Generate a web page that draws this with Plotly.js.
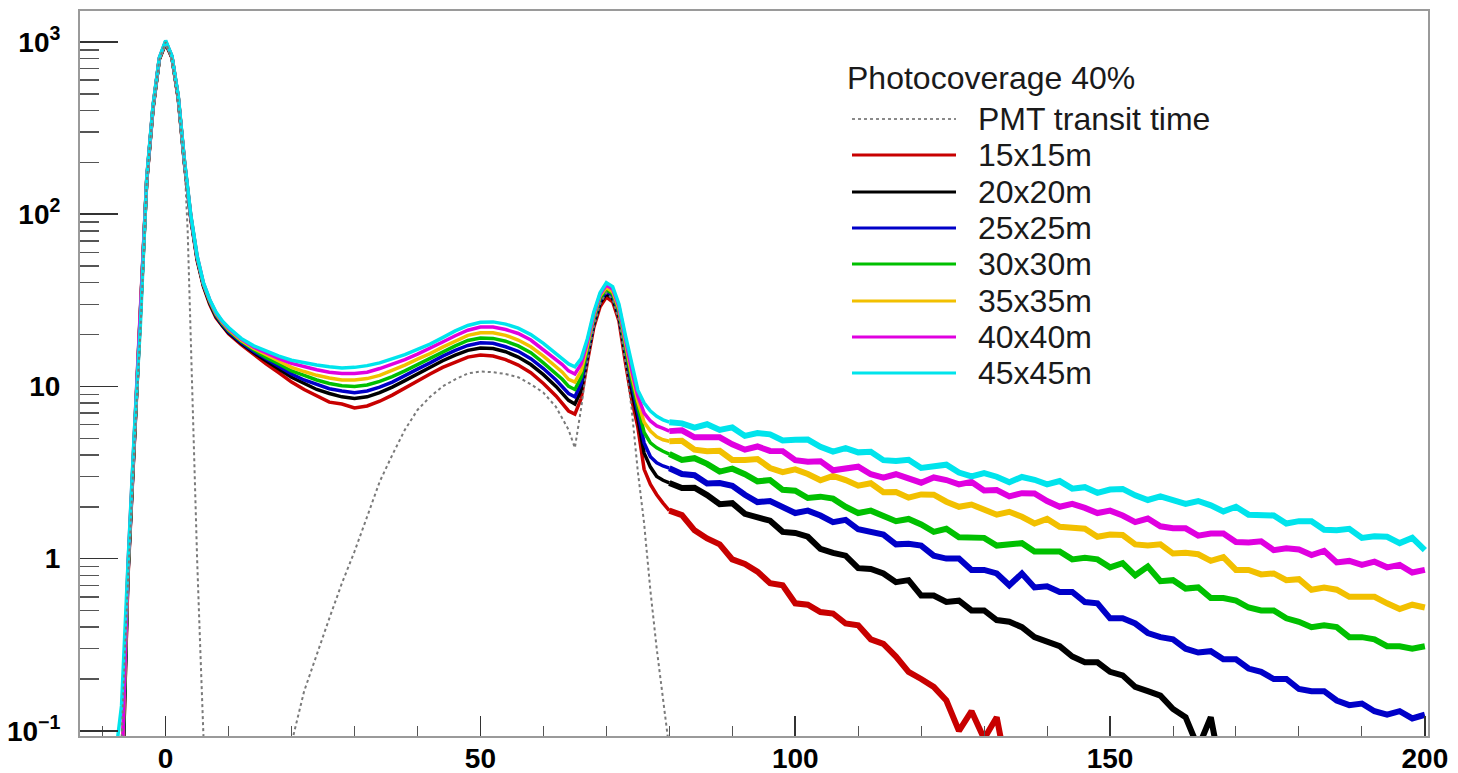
<!DOCTYPE html>
<html>
<head>
<meta charset="utf-8">
<script src="https://cdn.plot.ly/plotly-3.0.1.min.js"></script>
<style>html,body{margin:0;padding:0;background:#fff;}#chart{width:1458px;height:773px;}</style>
</head>
<body>
<div id="chart"></div>
<script>
// ---- data ----
const times = [-8,-7,-6,-5,-4,-3,-2,-1,0,1,2,3,4,5,6,7,8,9,10,
  12,14,16,18,20,22,24,26,28,30,32,34,36,38,40,42,44,46,48,50,52,54,56,58,60,62,
  63,64,65,66,67,68,69,70,71,72,73,74,75,76,77,78,79,80,
  82,84,86,88,90,92,94,96,98,100,102,104,106,108,110,112,114,116,118,120,
  122,124,126,128,130,132,134,136,138,140,142,144,146,148,150,152,154,156,158,160,
  162,164,166,168,170,172,174,176,178,180,182,184,186,188,190,192,194,196,198,200];

const det15 = [0.02,0.03,0.75,4.5,21,155,410,790,980,810,470,195,94,54,38,30,25,22.3,20.2,
  17.5,15.3,13.5,12.0,10.6,9.6,8.8,8.1,7.9,7.5,7.7,8.2,8.9,9.8,10.8,11.8,12.9,13.9,14.8,15.2,15.0,14.3,13.3,12.0,10.4,8.8,
  8.0,7.2,6.9,8.5,14,22,29,33,31,24,14,8.5,5.8,3.3,2.7,2.35,2.1,1.9,
  1.79,1.46,1.31,1.21,0.99,0.93,0.84,0.72,0.7,0.55,0.54,0.49,0.48,0.42,0.41,0.34,0.32,0.27,0.22,0.2,
  0.18,0.15,0.1,0.13,0.09,0.12,0.05,null,null,null,null,null,null,null,null,null,
  null,null,null,null,null,null,null,null,null,null,null,null,null,null,null,null,null,null,null,null,
  null,null,null,null];

const det20 = [0.02,0.03,0.78,4.6,21.5,157,415,795,990,815,475,197,95,55,38.5,30.5,25.5,22.6,20.5,
  17.8,15.7,14.0,12.6,11.3,10.4,9.6,9.1,8.7,8.5,8.7,9.2,9.9,10.8,11.8,12.9,14.1,15.2,16.2,16.7,16.6,15.9,14.8,13.4,11.7,10.0,
  9.1,8.3,7.9,9.5,15,23,30.5,34.5,32.5,25.5,15.5,9.6,6.5,4.1,3.4,3.0,2.85,2.75,
  2.57,2.58,2.34,2.07,2.1,1.82,1.74,1.66,1.43,1.41,1.34,1.14,1.08,1.04,0.88,0.87,0.82,0.73,0.75,0.61,
  0.61,0.56,0.57,0.5,0.5,0.44,0.43,0.4,0.35,0.33,0.31,0.27,0.25,0.25,0.22,0.21,0.18,0.17,0.16,0.134,
  0.12,0.08,0.12,0.05,null,null,null,null,null,null,null,null,null,null,null,null,null,null,null,null];

const det25 = [0.02,0.04,0.8,4.7,22,158,418,800,1000,820,478,198,96,55.5,39,31,25.8,22.9,20.8,
  18.0,16.0,14.4,13.0,11.8,10.9,10.3,9.7,9.4,9.2,9.4,9.9,10.6,11.6,12.6,13.7,15.0,16.2,17.3,17.9,17.8,17.0,16.0,14.5,12.7,10.9,
  10.0,9.1,8.7,10.4,15.8,24,31.5,35.5,33.5,26.5,16.5,10.3,7.0,4.7,3.9,3.6,3.45,3.35,
  3.1,3.05,2.73,2.75,2.65,2.35,2.13,2.16,2.0,1.84,1.9,1.78,1.63,1.68,1.48,1.42,1.38,1.21,1.22,1.19,
  1.04,1.0,1.0,0.86,0.86,0.82,0.7,0.82,0.68,0.69,0.64,0.64,0.56,0.55,0.45,0.45,0.42,0.37,0.35,0.34,
  0.3,0.285,0.29,0.26,0.26,0.23,0.22,0.2,0.2,0.175,0.17,0.17,0.15,0.141,0.144,0.13,0.124,0.13,0.118,0.124];

const det30 = [0.02,0.04,0.82,4.8,22,160,420,800,1000,822,480,200,97,56,39.2,31.2,26.1,23.2,21.1,
  18.3,16.3,14.7,13.5,12.3,11.6,10.9,10.4,10.1,10.0,10.2,10.7,11.4,12.3,13.4,14.5,15.9,17.2,18.5,19.1,19.0,18.3,17.2,15.7,13.7,11.8,
  11.0,10.0,9.6,11.3,16.5,24.8,32.5,36.5,34.5,27.3,17.3,11.0,7.6,5.4,4.7,4.4,4.2,4.05,
  3.74,3.83,3.55,3.2,3.33,3.09,2.81,2.86,2.51,2.48,2.25,2.29,2.23,2.0,1.84,1.9,1.78,1.65,1.7,1.58,
  1.43,1.49,1.33,1.32,1.32,1.19,1.22,1.23,1.1,1.09,1.1,0.99,1.01,0.99,0.89,0.94,0.8,0.9,0.74,0.75,
  0.67,0.68,0.59,0.59,0.57,0.52,0.5,0.5,0.45,0.43,0.4,0.41,0.4,0.35,0.35,0.34,0.31,0.31,0.3,0.31];

const det35 = [0.02,0.05,0.85,4.9,22.5,160,422,805,1005,825,482,201,97.5,56.5,39.5,31.5,26.4,23.5,21.4,
  18.5,16.6,15.2,14.0,12.9,12.2,11.6,11.2,10.9,10.9,11.1,11.6,12.4,13.3,14.4,15.5,16.9,18.4,19.8,20.5,20.5,19.8,18.6,17.0,15.0,13.0,
  12.1,11.0,10.6,12.3,17.3,25.6,33.5,37.5,35.5,28.2,18.2,11.8,8.2,6.2,5.5,5.1,4.9,4.8,
  4.83,4.29,4.2,4.23,3.74,3.74,3.79,3.36,3.18,3.3,3.1,2.85,3.02,2.86,2.65,2.74,2.43,2.44,2.26,2.36,
  2.35,2.14,2.0,2.06,1.94,1.8,1.87,1.75,1.6,1.7,1.53,1.5,1.49,1.34,1.38,1.37,1.21,1.19,1.21,1.07,
  1.08,1.06,0.97,1.02,0.86,0.86,0.81,0.82,0.75,0.76,0.66,0.68,0.66,0.6,0.6,0.6,0.55,0.51,0.54,0.52];

const det40 = [0.03,0.05,0.88,5.0,23,162,425,808,1010,828,485,202,98,57,39.8,31.8,26.7,23.8,21.7,
  18.8,16.9,15.6,14.5,13.6,13.0,12.5,12.1,11.9,11.9,12.1,12.7,13.4,14.3,15.4,16.6,18.1,19.7,21.2,22.1,22.1,21.4,20.3,18.6,16.4,14.3,
  13.4,12.3,11.8,13.5,18.2,26.3,34.3,38.8,36.8,29.1,19.1,12.6,8.8,7.0,6.3,5.9,5.7,5.5,
  5.56,5.06,5.04,5.06,4.61,4.29,4.48,4.22,4.21,3.73,3.65,3.68,3.26,3.31,3.42,3.09,2.95,3.09,2.95,2.76,
  2.96,2.86,2.7,2.79,2.49,2.5,2.3,2.4,2.39,2.16,2.0,2.08,1.97,1.84,1.9,1.78,1.63,1.71,1.54,1.5,
  1.5,1.36,1.4,1.4,1.25,1.24,1.26,1.12,1.15,1.13,1.05,1.11,0.95,0.97,0.92,0.96,0.89,0.92,0.83,0.86];

const det45 = [0.07,0.14,0.9,5.2,23,163,428,810,1020,830,488,204,99,57.5,40,32,27,24,22,
  19.0,17.2,16.0,15.0,14.2,13.7,13.3,13.0,12.8,12.9,13.2,13.7,14.4,15.3,16.4,17.6,19.2,21.0,22.6,23.6,23.7,23.0,21.8,20.0,17.8,15.6,
  14.6,13.5,13.0,14.5,19,27,35,40,38,30,20,13.5,9.5,8.0,7.2,6.7,6.4,6.2,
  6.1,5.77,6.03,5.59,5.78,5.16,5.36,5.27,4.85,4.9,4.91,4.46,4.18,4.38,4.14,4.17,3.73,3.69,3.75,3.36,
  3.4,3.51,3.16,3.0,3.14,2.99,2.78,2.98,2.87,2.7,2.82,2.55,2.6,2.41,2.52,2.54,2.33,2.19,2.3,2.2,
  2.08,2.16,2.04,1.88,2.0,1.8,1.78,1.78,1.6,1.65,1.65,1.47,1.46,1.49,1.32,1.35,1.34,1.23,1.32,1.12];

const pmtTime = [-8,-7,-6,-5,-4,-3,-2,-1,0,1,2,3,3.5,4,4.5,5,5.5,6,6.5,13,19.5,20,22,24,26,28,30,32,34,36,38,40,42,44,46,48,50,52,54,56,58,60,62,64,65,66,67,68,69,70,71,72,73,74,75,76,77,78,79,80,81];
const pmtValues = [0.02,0.09,0.7,4.3,21,155,410,790,1000,790,440,200,80,17,3.8,1.0,0.3,0.09,0.03,null,0.05,0.085,0.17,0.28,0.45,0.72,1.1,1.75,2.8,4.0,5.6,7.3,8.7,10.0,11.0,11.9,12.2,12.1,11.8,11.3,10.3,9.2,7.6,5.6,4.4,7.5,14,22,30,35,32,24,14,7.5,3.2,1.6,0.65,0.3,0.15,0.08,0.04];

const seriesNames = ["15x15m","20x20m","25x25m","30x30m","35x35m","40x40m","45x45m"];
const seriesColors = ["#c80000","#000000","#0000c8","#00c000","#f2c000","#e000e0","#00e4ec"];
const seriesValues = [det15, det20, det25, det30, det35, det40, det45];
const legendHeader = "Photocoverage 40%";
const pmtName = "PMT transit time";
const yTickVals = [0.1, 1, 10, 100, 1000];
const yTickText = ["10<sup>−1</sup>", "1", "10", "10<sup>2</sup>", "10<sup>3</sup>"];
const yMinorVals = [0.2,0.3,0.4,0.5,0.6,0.7,0.8,0.9,2,3,4,5,6,7,8,9,20,30,40,50,60,70,80,90,200,300,400,500,600,700,800,900];

// ---- traces: narrow line up to the last peak, thick noisy band in the tails ----
const splitIdx = times.indexOf(80);
const traces = [];
seriesValues.forEach((vals, i) => {
  traces.push({x: times.slice(0, splitIdx + 1), y: vals.slice(0, splitIdx + 1),
    type: "scatter", mode: "lines", name: seriesNames[i],
    line: {color: seriesColors[i], width: 3.5}, showlegend: false, hoverinfo: "skip"});
});
seriesValues.forEach((vals, i) => {
  traces.push({x: times.slice(splitIdx), y: vals.slice(splitIdx),
    type: "scatter", mode: "lines", name: seriesNames[i] + " tail",
    line: {color: seriesColors[i], width: 6}, showlegend: false, hoverinfo: "skip"});
});
traces.push({
  x: pmtTime, y: pmtValues, type: "scatter", mode: "lines", name: pmtName,
  line: {color: "#7a7a7a", width: 2, dash: "dot"}, showlegend: false, hoverinfo: "skip"
});

// ---- manual legend (paper coordinates) ----
const FONT = "Liberation Sans, Arial, Helvetica, sans-serif";
const plotL = 80, plotR = 1428, plotT = 11, plotB = 736;
const px = v => (v - plotL) / (plotR - plotL);
const py = v => (plotB - v) / (plotB - plotT);
const rowY = [119, 155, 192, 228, 264, 301, 337, 373];
const shapes = [];
const annotations = [{
  xref: "paper", yref: "paper", x: px(845), y: py(78), xanchor: "left", yanchor: "middle",
  text: legendHeader, showarrow: false, font: {family: FONT, size: 32, color: "#1a1a1a"}
}];
const legNames = [pmtName].concat(seriesNames);
const legColors = ["#8a8a8a"].concat(seriesColors);
legNames.forEach((nm, i) => {
  shapes.push({type: "line", xref: "paper", yref: "paper",
    x0: px(852), x1: px(956), y0: py(rowY[i]), y1: py(rowY[i]),
    line: {color: legColors[i], width: i === 0 ? 2 : 3, dash: i === 0 ? "dot" : "solid"}});
  annotations.push({xref: "paper", yref: "paper", x: px(976), y: py(rowY[i]),
    xanchor: "left", yanchor: "middle", text: nm, showarrow: false,
    font: {family: FONT, size: 32, color: "#1a1a1a"}});
});

const layout = {
  width: 1458, height: 773, autosize: false,
  margin: {l: plotL, r: 1458 - plotR, t: plotT, b: 773 - plotB, pad: 0},
  paper_bgcolor: "#ffffff", plot_bgcolor: "#ffffff",
  font: {family: FONT, color: "#000"},
  xaxis: {
    range: [-13.6, 200.5], tickmode: "linear", tick0: 0, dtick: 50,
    ticks: "inside", ticklen: 20, tickwidth: 1.5, tickcolor: "#333",
    minor: {tick0: 0, dtick: 10, ticks: "inside", ticklen: 10, tickwidth: 1, tickcolor: "#555"},
    showgrid: false, zeroline: false, showline: true, mirror: true,
    linecolor: "#9a9a9a", linewidth: 2,
    tickfont: {family: FONT, size: 28, color: "#000", weight: "bold"},
    ticklabelstandoff: -4
  },
  yaxis: {
    type: "log", range: [-1.03, 3.18],
    tickmode: "array", tickvals: yTickVals, ticktext: yTickText,
    ticks: "inside", ticklen: 38, tickwidth: 1.5, tickcolor: "#333",
    minor: {tickmode: "array", tickvals: yMinorVals, ticks: "inside", ticklen: 19, tickwidth: 1.5, tickcolor: "#555"},
    showgrid: false, zeroline: false, showline: true, mirror: true,
    linecolor: "#9a9a9a", linewidth: 2,
    tickfont: {family: FONT, size: 28, color: "#000", weight: "bold"},
    ticklabelstandoff: 12
  },
  shapes: shapes, annotations: annotations, showlegend: false
};

Plotly.newPlot("chart", traces, layout, {staticPlot: true, displayModeBar: false});
</script>
</body>
</html>
